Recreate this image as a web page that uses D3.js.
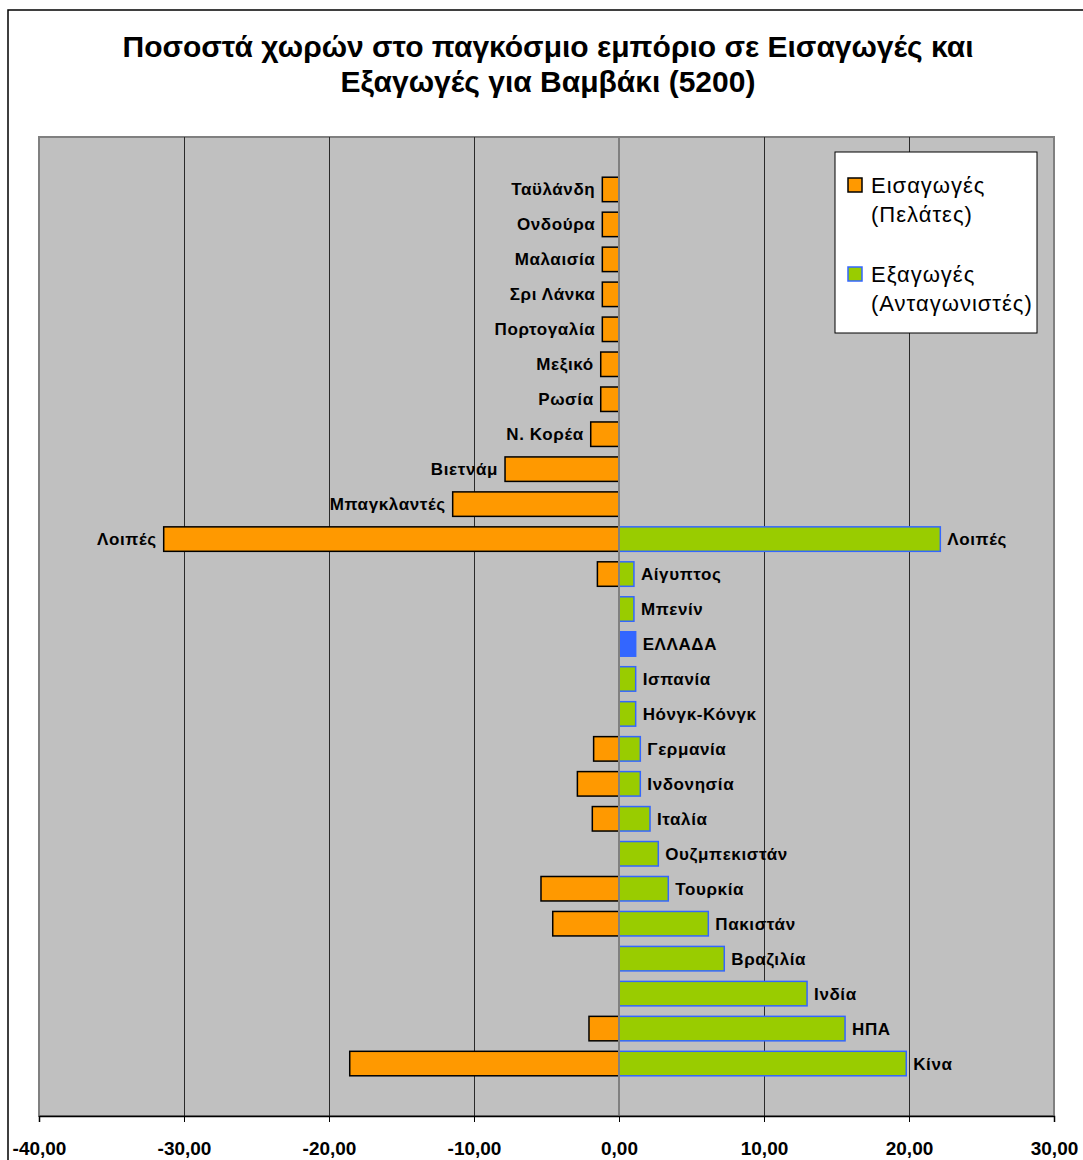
<!DOCTYPE html>
<html>
<head>
<meta charset="utf-8">
<script src="https://cdn.jsdelivr.net/npm/d3@7"></script>
<style>
  html, body { margin: 0; padding: 0; background: #fff; }
  svg { display: block; font-family: "Liberation Sans", Arial, sans-serif; }
</style>
</head>
<body>
<svg id="chart" width="1083" height="1160"></svg>
<script>
// ---- data ----
const titleLines = ["Ποσοστά χωρών στο παγκόσμιο εμπόριο σε Εισαγωγές και", "Εξαγωγές για Βαμβάκι (5200)"];
const categories = ["Ταϋλάνδη", "Ονδούρα", "Μαλαισία", "Σρι Λάνκα", "Πορτογαλία", "Μεξικό", "Ρωσία", "Ν. Κορέα",
  "Βιετνάμ", "Μπαγκλαντές", "Λοιπές", "Αίγυπτος", "Μπενίν", "ΕΛΛΑΔΑ", "Ισπανία", "Ηόνγκ-Κόνγκ", "Γερμανία",
  "Ινδονησία", "Ιταλία", "Ουζμπεκιστάν", "Τουρκία", "Πακιστάν", "Βραζιλία", "Ινδία", "ΗΠΑ", "Κίνα"];
const imports = [-1.15, -1.15, -1.15, -1.15, -1.15, -1.26, -1.26, -1.95, -7.86, -11.47, -31.4, -1.49, null, null, null, null,
  -1.75, -2.87, -1.84, null, -5.38, -4.57, null, null, -2.07, -18.57];
const exports = [null, null, null, null, null, null, null, null, null, null, 22.16, 1.03, 1.03, 1.15, 1.15, 1.15,
  1.47, 1.47, 2.14, 2.71, 3.40, 6.16, 7.26, 12.97, 15.59, 19.81];
const highlight = "ΕΛΛΑΔΑ";
const xTicks = [-40, -30, -20, -10, 0, 10, 20, 30];
const legendItems = [
  { lines: ["Εισαγωγές", "(Πελάτες)"], fill: "#FF9900", stroke: "#000000" },
  { lines: ["Εξαγωγές", "(Ανταγωνιστές)"], fill: "#99CC00", stroke: "#3366FF" }
];

// ---- layout ----
const svg = d3.select("#chart");
const plot = { left: 39, right: 1054, top: 137, bottom: 1116 };

svg.append("rect").attr("x", 8).attr("y", 10).attr("width", 1200).attr("height", 1300)
  .attr("fill", "#fff").attr("stroke", "#000").attr("stroke-width", 1.5);

const x = d3.scaleLinear().domain([-40, 30]).range([plot.left, plot.right]);
const y = d3.scaleBand().domain(categories).range([plot.top, plot.bottom]).paddingInner(0).paddingOuter(1);
const barH = y.bandwidth() * 0.7;
const barY = d => y(d) + (y.bandwidth() - barH) / 2;

// title
svg.append("g").selectAll("text").data(titleLines).join("text")
  .attr("x", 548).attr("y", (d, i) => 57 + i * 35)
  .attr("text-anchor", "middle").attr("font-size", 30).attr("font-weight", "bold").attr("fill", "#000")
  .text(d => d);

// plot background
svg.append("rect").attr("x", plot.left).attr("y", plot.top)
  .attr("width", plot.right - plot.left).attr("height", plot.bottom - plot.top)
  .attr("fill", "#C0C0C0").attr("stroke", "#808080").attr("stroke-width", 2);

// gridlines
svg.append("g").selectAll("line").data(xTicks.filter(t => t !== 0 && t !== -40 && t !== 30)).join("line")
  .attr("x1", d => Math.round(x(d)) + 0.5).attr("x2", d => Math.round(x(d)) + 0.5)
  .attr("y1", plot.top).attr("y2", plot.bottom)
  .attr("stroke", "#2a2a2a").attr("stroke-width", 1);

const rows = categories.map((c, i) => ({ c, imp: imports[i], exp: exports[i] }));

// import bars
svg.append("g").selectAll("rect").data(rows.filter(r => r.imp != null)).join("rect")
  .attr("x", d => x(d.imp)).attr("y", d => barY(d.c))
  .attr("width", d => x(0) - x(d.imp)).attr("height", barH)
  .attr("fill", "#FF9900").attr("stroke", "#000").attr("stroke-width", 1.5);

// export bars
svg.append("g").selectAll("rect").data(rows.filter(r => r.exp != null)).join("rect")
  .attr("x", x(0)).attr("y", d => barY(d.c))
  .attr("width", d => x(d.exp) - x(0)).attr("height", barH)
  .attr("fill", d => d.c === highlight ? "#3366FF" : "#99CC00")
  .attr("stroke", "#3366FF").attr("stroke-width", 1.5);

// zero line
svg.append("line").attr("x1", x(0)).attr("x2", x(0)).attr("y1", plot.top).attr("y2", plot.bottom)
  .attr("stroke", "#808080").attr("stroke-width", 2);

// labels
const labelG = svg.append("g").attr("font-size", 17).attr("font-weight", "bold")
  .attr("letter-spacing", "0.6px").attr("fill", "#000");
rows.forEach(r => {
  const cy = y(r.c) + y.bandwidth() / 2;
  if (r.exp != null) {
    labelG.append("text").attr("x", x(r.exp) + 7).attr("y", cy).attr("dy", "0.35em")
      .attr("text-anchor", "start").text(r.c);
  }
  if (r.imp != null && (r.exp == null || r.imp < -20)) {
    labelG.append("text").attr("x", x(r.imp) - 7).attr("y", cy).attr("dy", "0.35em")
      .attr("text-anchor", "end").text(r.c);
  }
});

// x axis
const axis = d3.axisBottom(x).tickValues(xTicks).tickSize(6)
  .tickFormat(d => d3.format(".2f")(d).replace(".", ",").replace("−", "-"));
const ax = svg.append("g").attr("transform", `translate(0,${plot.bottom})`).call(axis);
ax.select(".domain").attr("stroke", "#000").attr("stroke-width", 1.5);
ax.selectAll(".tick line").attr("stroke", "#000");
ax.selectAll(".tick text").attr("font-size", 19).attr("font-weight", "bold").attr("fill", "#000")
  .attr("font-family", "Liberation Sans, Arial, sans-serif").attr("dy", "1.6em");

// legend
const lg = svg.append("g");
lg.append("rect").attr("x", 835).attr("y", 152).attr("width", 202).attr("height", 181)
  .attr("fill", "#fff").attr("stroke", "#000").attr("stroke-width", 1);
legendItems.forEach((it, i) => {
  const by = 193 + i * 89;
  lg.append("rect").attr("x", 848).attr("y", by - 15).attr("width", 14).attr("height", 14)
    .attr("fill", it.fill).attr("stroke", it.stroke).attr("stroke-width", 1.5);
  it.lines.forEach((t, j) => {
    lg.append("text").attr("x", 871).attr("y", by + j * 29).attr("font-size", 22)
      .attr("letter-spacing", "1px").attr("fill", "#000").text(t);
  });
});
</script>
</body>
</html>
